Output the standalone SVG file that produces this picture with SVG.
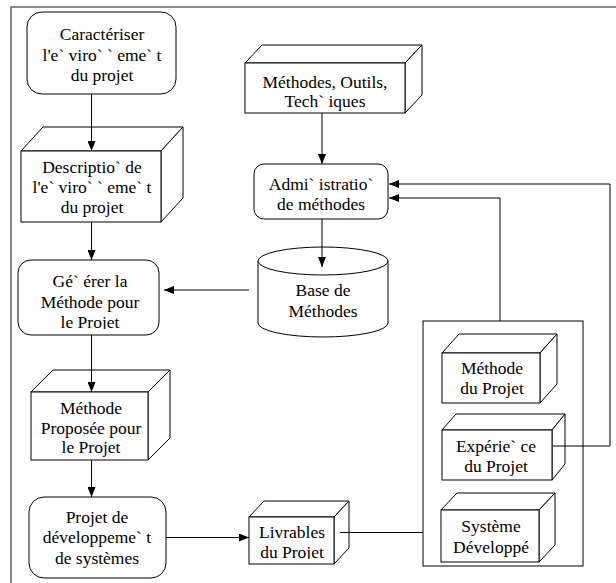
<svg xmlns="http://www.w3.org/2000/svg" width="616" height="583" viewBox="0 0 616 583">
<style>
.s{fill:#fff;stroke:#000;stroke-width:1}
text{font-family:'Liberation Serif','DejaVu Serif',serif;font-size:17.5px;fill:#000;text-anchor:middle}
.c{fill:none;stroke:#000;stroke-width:1}
.a{marker-end:url(#ah)}
</style>
<defs>
<marker id="ah" viewBox="0 0 10 8" refX="10" refY="4" markerWidth="10" markerHeight="8" orient="auto" markerUnits="userSpaceOnUse"><path d="M0,0 L10,4 L0,8 z" fill="#000"/></marker>
<clipPath id="clipA"><rect x="0" y="0" width="616" height="329"/></clipPath>
<clipPath id="clipB"><rect x="0" y="0" width="616" height="559"/></clipPath>
</defs>
<rect x="11" y="7" width="620" height="590" fill="#fff" stroke="#6e6e6e" stroke-width="1.6"/>

<g id="n-caract" font-family="Liberation Serif, serif">
<rect class="s" x="27" y="12" width="149" height="82" rx="15"/>
<text x="102" y="40">Caractériser</text>
<text x="102" y="60.5">l'e` viro` ` eme` t</text>
<text x="102" y="81">du projet</text>
</g>

<g id="n-descr" font-family="Liberation Serif, serif">
<polygon class="s" points="21,151 43,127 183,127 161,151"/>
<polygon class="s" points="161,151 183,127 183,198 161,222"/>
<rect class="s" x="21" y="151" width="140" height="71"/>
<text x="92" y="173">Descriptio` de</text>
<text x="92" y="193">l'e` viro` ` eme` t</text>
<text x="92" y="213">du projet</text>
</g>

<g id="n-gerer" font-family="Liberation Serif, serif">
<rect class="s" x="18" y="260" width="141" height="75" rx="13"/>
<text x="90" y="287">Gé` érer la</text>
<text x="90" y="308">Méthode pour</text>
<text x="90" y="328" clip-path="url(#clipA)">le Projet</text>
</g>

<g id="n-proposee" font-family="Liberation Serif, serif">
<polygon class="s" points="31,392 53,370 170,370 148,392"/>
<polygon class="s" points="148,392 170,370 170,438 148,460"/>
<rect class="s" x="31" y="392" width="117" height="68"/>
<text x="91" y="414">Méthode</text>
<text x="91" y="434">Proposée pour</text>
<text x="91" y="453">le Projet</text>
</g>

<g id="n-projetdev" font-family="Liberation Serif, serif">
<rect class="s" x="29" y="497" width="137" height="81" rx="15"/>
<text x="97" y="523">Projet de</text>
<text x="97" y="543">développeme` t</text>
<text x="97" y="564">de systèmes</text>
</g>

<g id="n-mot" font-family="Liberation Serif, serif">
<polygon class="s" points="245,63 262,45 422,45 405,63"/>
<polygon class="s" points="405,63 422,45 422,95 405,113"/>
<rect class="s" x="245" y="63" width="160" height="50"/>
<text x="325" y="88">Méthodes, Outils,</text>
<text x="325" y="107">Tech` iques</text>
</g>

<g id="n-admin" font-family="Liberation Serif, serif">
<rect class="s" x="254" y="164" width="134" height="55" rx="10"/>
<text x="321" y="190">Admi` istratio`</text>
<text x="321" y="210">de méthodes</text>
</g>

<g id="n-base" font-family="Liberation Serif, serif">
<path class="s" d="M258,261 L258,323 A65,14 0 0 0 388,323 L388,261"/>
<ellipse class="s" cx="323" cy="261" rx="65" ry="14"/>
<text x="323" y="296">Base de</text>
<text x="323" y="317">Méthodes</text>
</g>

<g id="n-livrables" font-family="Liberation Serif, serif">
<polygon class="s" points="249,517 264,501 349,501 334,517"/>
<polygon class="s" points="334,517 349,501 349,548 334,564"/>
<rect class="s" x="249" y="517" width="85" height="47"/>
<text x="292" y="538">Livrables</text>
<text x="292" y="558" clip-path="url(#clipB)">du Projet</text>
</g>

<g id="n-container">
<rect class="s" x="423" y="321" width="160" height="245"/>
</g>

<g id="n-methproj" font-family="Liberation Serif, serif">
<polygon class="s" points="442,353 459,334 557,334 540,353"/>
<polygon class="s" points="540,353 557,334 557,384 540,403"/>
<rect class="s" x="442" y="353" width="98" height="50"/>
<text x="492" y="374">Méthode</text>
<text x="492" y="394">du Projet</text>
</g>

<g id="n-experience" font-family="Liberation Serif, serif">
<polygon class="s" points="442,430 456,414 565,414 552,430"/>
<polygon class="s" points="552,430 565,414 565,464 552,480"/>
<rect class="s" x="442" y="430" width="110" height="50"/>
<text x="496" y="452">Expérie` ce</text>
<text x="496" y="472">du Projet</text>
</g>

<g id="n-systeme" font-family="Liberation Serif, serif">
<polygon class="s" points="441,510 457,493 555,493 539,510"/>
<polygon class="s" points="539,510 555,493 555,545 539,562"/>
<rect class="s" x="441" y="510" width="98" height="52"/>
<text x="491" y="532">Système</text>
<text x="491" y="553">Développé</text>
</g>

<g id="connectors">
<line class="c a" x1="91.5" y1="94" x2="91.5" y2="151"/>
<line class="c a" x1="91.5" y1="222" x2="91.5" y2="260"/>
<line class="c a" x1="91.5" y1="335" x2="91.5" y2="392"/>
<line class="c a" x1="91.5" y1="460" x2="91.5" y2="497"/>
<line class="c a" x1="166" y1="537.5" x2="249" y2="537.5"/>
<line class="c a" x1="322" y1="113" x2="322" y2="164"/>
<line class="c a" x1="322" y1="219" x2="322" y2="267"/>
<line class="c a" x1="249" y1="290" x2="164" y2="290"/>
<polyline class="c a" points="500,321 500,198 389,198"/>
<polyline class="c a" points="553,446 610,446 610,184 389,184"/>
<line class="c" x1="340" y1="532.5" x2="423" y2="532.5"/>
</g>
</svg>
